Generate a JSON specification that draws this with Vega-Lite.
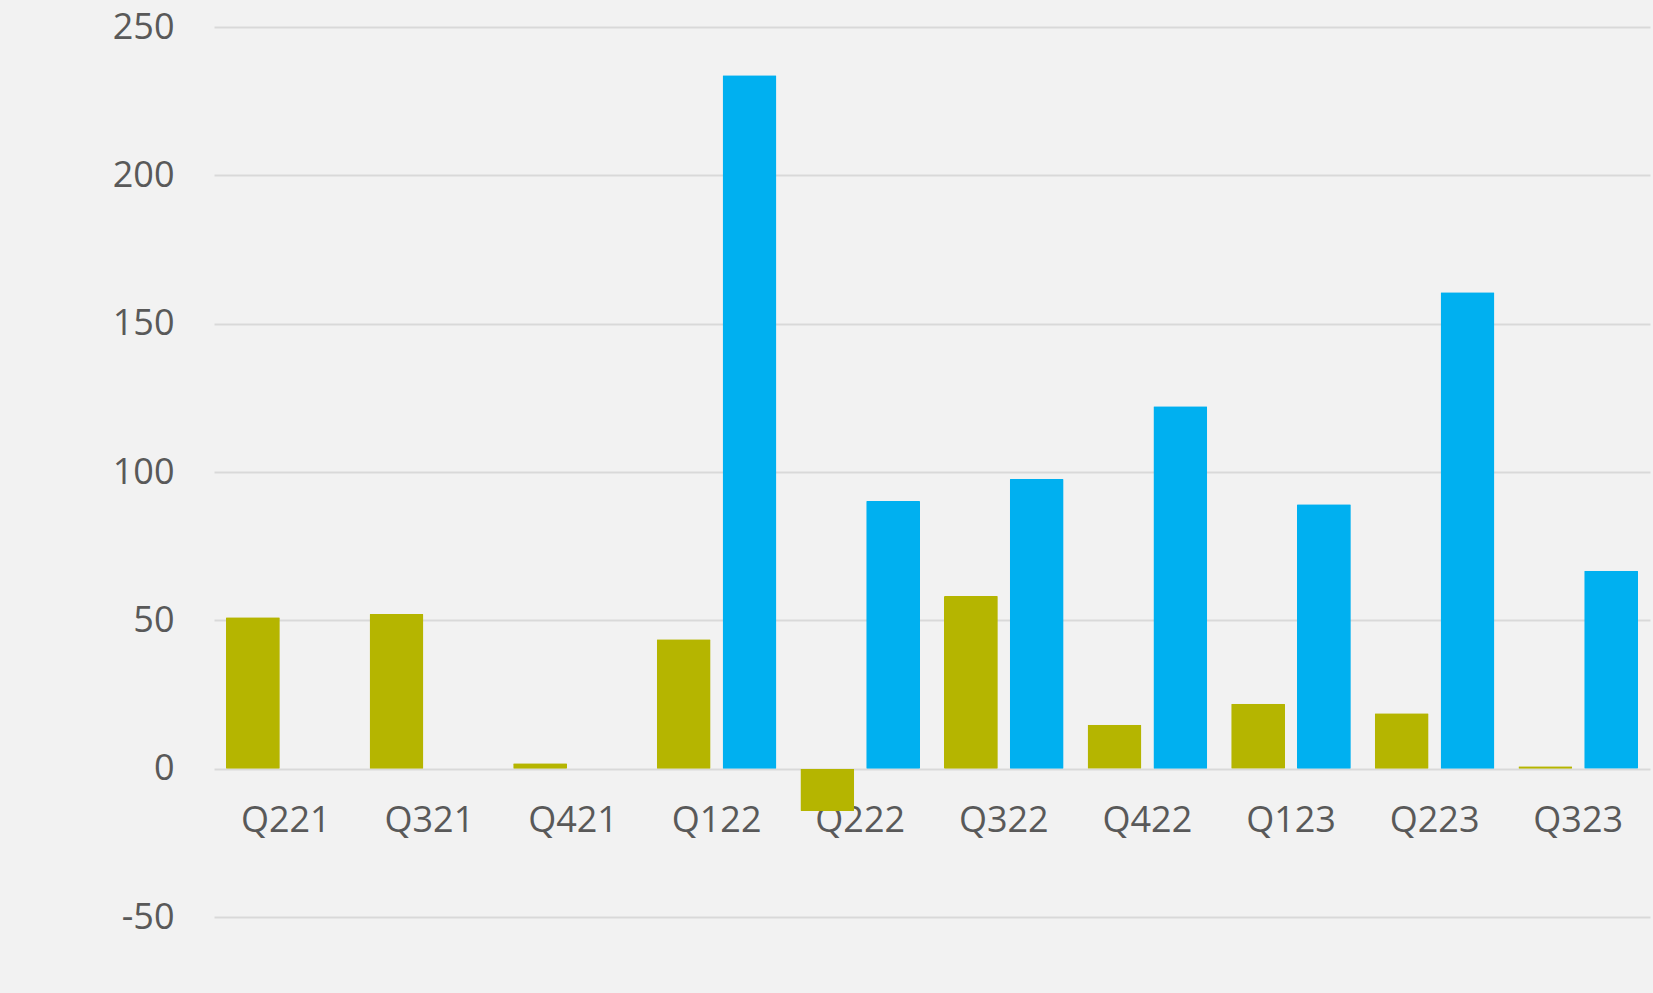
{
  "$schema": "https://vega.github.io/schema/vega-lite/v6.json",
  "autosize": {"type": "none"},
  "width": 1436,
  "height": 890,
  "padding": {"left": 214, "top": 27, "right": 3, "bottom": 76},
  "background": "#f2f2f2",
  "config": {"view": {"stroke": null}, "font": "Open Sans"},
  "data": {
    "values": [
      {"quarter": "Q221", "series": "Green", "value": 51.0},
      {"quarter": "Q321", "series": "Green", "value": 52.1},
      {"quarter": "Q421", "series": "Green", "value": 1.8},
      {"quarter": "Q122", "series": "Green", "value": 43.6},
      {"quarter": "Q122", "series": "Blue", "value": 233.7},
      {"quarter": "Q222", "series": "Green", "value": -14.3},
      {"quarter": "Q222", "series": "Blue", "value": 90.2},
      {"quarter": "Q322", "series": "Green", "value": 58.2},
      {"quarter": "Q322", "series": "Blue", "value": 97.6},
      {"quarter": "Q422", "series": "Green", "value": 14.8},
      {"quarter": "Q422", "series": "Blue", "value": 122.2},
      {"quarter": "Q123", "series": "Green", "value": 21.9},
      {"quarter": "Q123", "series": "Blue", "value": 89.1},
      {"quarter": "Q223", "series": "Green", "value": 18.7},
      {"quarter": "Q223", "series": "Blue", "value": 160.6},
      {"quarter": "Q323", "series": "Green", "value": 0.8},
      {"quarter": "Q323", "series": "Blue", "value": 66.7}
    ]
  },
  "mark": {"type": "bar", "cornerRadius": 1},
  "encoding": {
    "x": {
      "field": "quarter",
      "type": "nominal",
      "sort": ["Q221","Q321","Q421","Q122","Q222","Q322","Q422","Q123","Q223","Q323"],
      "scale": {"paddingInner": 0, "paddingOuter": 0},
      "axis": {
        "title": null,
        "labelAngle": 0,
        "offset": -149,
        "domain": false,
        "ticks": false,
        "grid": false,
        "labelFontSize": 36,
        "labelColor": "#595959",
        "labelPadding": 35,
        "labelBaseline": "top"
      }
    },
    "xOffset": {
      "field": "series",
      "type": "nominal",
      "scale": {"domain": ["Green", "Blue"], "paddingInner": 0.182, "paddingOuter": 0.182}
    },
    "y": {
      "field": "value",
      "type": "quantitative",
      "scale": {"domain": [-50, 250], "nice": false, "zero": false},
      "axis": {
        "title": null,
        "values": [-50, 0, 50, 100, 150, 200, 250],
        "labelExpr": "'' + datum.value",
        "domain": false,
        "ticks": false,
        "gridColor": "#d9d9d9",
        "gridWidth": 2,
        "labelFontSize": 36,
        "labelColor": "#595959",
        "labelPadding": 40
      }
    },
    "color": {
      "field": "series",
      "type": "nominal",
      "scale": {"domain": ["Green", "Blue"], "range": ["#b5b500", "#00b0f0"]},
      "legend": null
    }
  }
}
